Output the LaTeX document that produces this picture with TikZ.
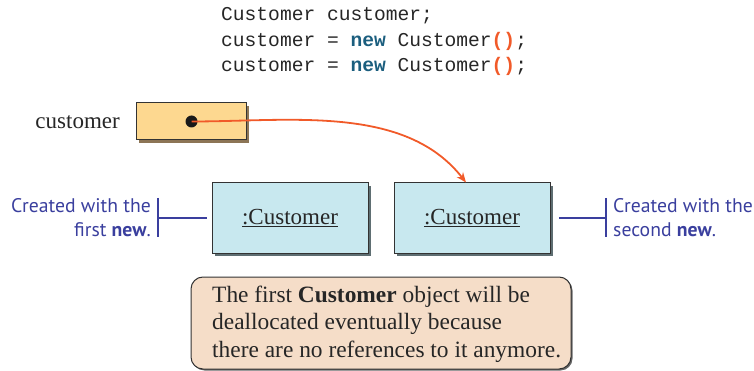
\documentclass[tikz,border=0pt]{standalone}
\usepackage{fontspec}
\setmainfont{Liberation Serif}
\newfontfamily\codefont{Liberation Mono}
\newfontfamily\annfont{PT Sans}
\usetikzlibrary{arrows.meta,shadows}
\definecolor{yelfill}{HTML}{FDD890}
\definecolor{yelshadow}{HTML}{8C7556}
\definecolor{bluefill}{HTML}{C8E8EF}
\definecolor{blueshadow}{HTML}{5E6E72}
\definecolor{notefill}{HTML}{F5DDC8}
\definecolor{annblue}{HTML}{3A3F9E}
\definecolor{arrowred}{HTML}{F15A29}
\definecolor{newblue}{HTML}{1B5E7E}
\definecolor{boxborder}{HTML}{333333}
\tikzset{
  codeline/.style={anchor=base west, inner sep=0pt, font=\codefont\fontsize{19.6}{22}\selectfont, text=black!85},
  varbox/.style={draw=boxborder, line width=1pt, fill=yelfill, minimum width=110pt, minimum height=37pt, inner sep=0pt,
     drop shadow={shadow xshift=3pt, shadow yshift=-3pt, fill=yelshadow, opacity=1}},
  objbox/.style={draw=boxborder, line width=1pt, fill=bluefill, minimum width=156pt, minimum height=70pt, inner sep=0pt,
     font=\fontsize{23}{26}\selectfont, text=black!85,
     drop shadow={shadow xshift=3pt, shadow yshift=-3pt, fill=blueshadow, opacity=1}},
  ann/.style={inner sep=0pt, text=annblue, font=\annfont\fontsize{19.7}{24}\selectfont},
  annline/.style={draw=annblue, line width=1.3pt},
  notebox/.style={draw=boxborder, line width=1pt, fill=notefill, rounded corners=12pt, minimum width=380pt, minimum height=92pt,
     drop shadow={shadow xshift=1.5pt, shadow yshift=-1.5pt, fill=black!60, opacity=1}},
  serif23/.style={font=\fontsize{23}{27}\selectfont, text=black!85},
  notefont/.style={font=\fontsize{23.4}{27.3}\selectfont, text=black!85},
  refdot/.style={circle, fill=black!90, minimum size=12pt, inner sep=0pt}
}
\begin{document}
\begin{tikzpicture}[x=1pt,y=-1pt]
\useasboundingbox (0,0) rectangle (754,371);
% code
\node[codeline] (c1) at (221,21) {Customer customer;};
\node[codeline] (c2) at (221,46.5) {customer = \textcolor{newblue}{\textbf{new}} Customer\textcolor{arrowred}{\textbf{()}};};
\node[codeline] (c3) at (221,72) {customer = \textcolor{newblue}{\textbf{new}} Customer\textcolor{arrowred}{\textbf{()}};};
% variable
\node[serif23, anchor=east, inner sep=0pt] (lbl) at (120,122) {customer};
\node[varbox] (var) at (191,121.5) {};
\node[refdot] (dot) at (191.5,121.5) {};
% objects
\node[objbox] (o1) at (290,218) {\underline{:Customer}};
\node[objbox] (o2) at (472,218) {\underline{:Customer}};
% arrow
\draw[arrowred, line width=1.8pt, -{Stealth[length=10pt,width=8pt]}] (dot.center) to[out=0, in=128, looseness=0.9] (o2.north -| 466,0);
% left annotation
\node[ann, anchor=east, align=right] (a1) at (151,218) {Created with the\\first \textbf{new}.};
\coordinate (b1t) at (158,198);
\coordinate (b1b) at (158,237);
\coordinate (b1m) at (158,218);
\draw[annline] (b1t) -- (b1b);
\draw[annline] (b1m) -- ([xshift=-5pt]o1.west);
% right annotation
\node[ann, anchor=west, align=left] (a2) at (613,218) {Created with the\\second \textbf{new}.};
\coordinate (b2t) at (606,198);
\coordinate (b2b) at (606,237);
\coordinate (b2m) at (606,218);
\draw[annline] (b2t) -- (b2b);
\draw[annline] (b2m) -- ([xshift=8pt]o2.east);
% note
\node[notebox] (note) at (381,323) {};
\node[notefont, anchor=west, align=left, inner sep=0pt] (notetext) at (212,324)
  {The first \textbf{Customer} object will be\\deallocated eventually because\\there are no references to it anymore.};
\end{tikzpicture}
\end{document}
